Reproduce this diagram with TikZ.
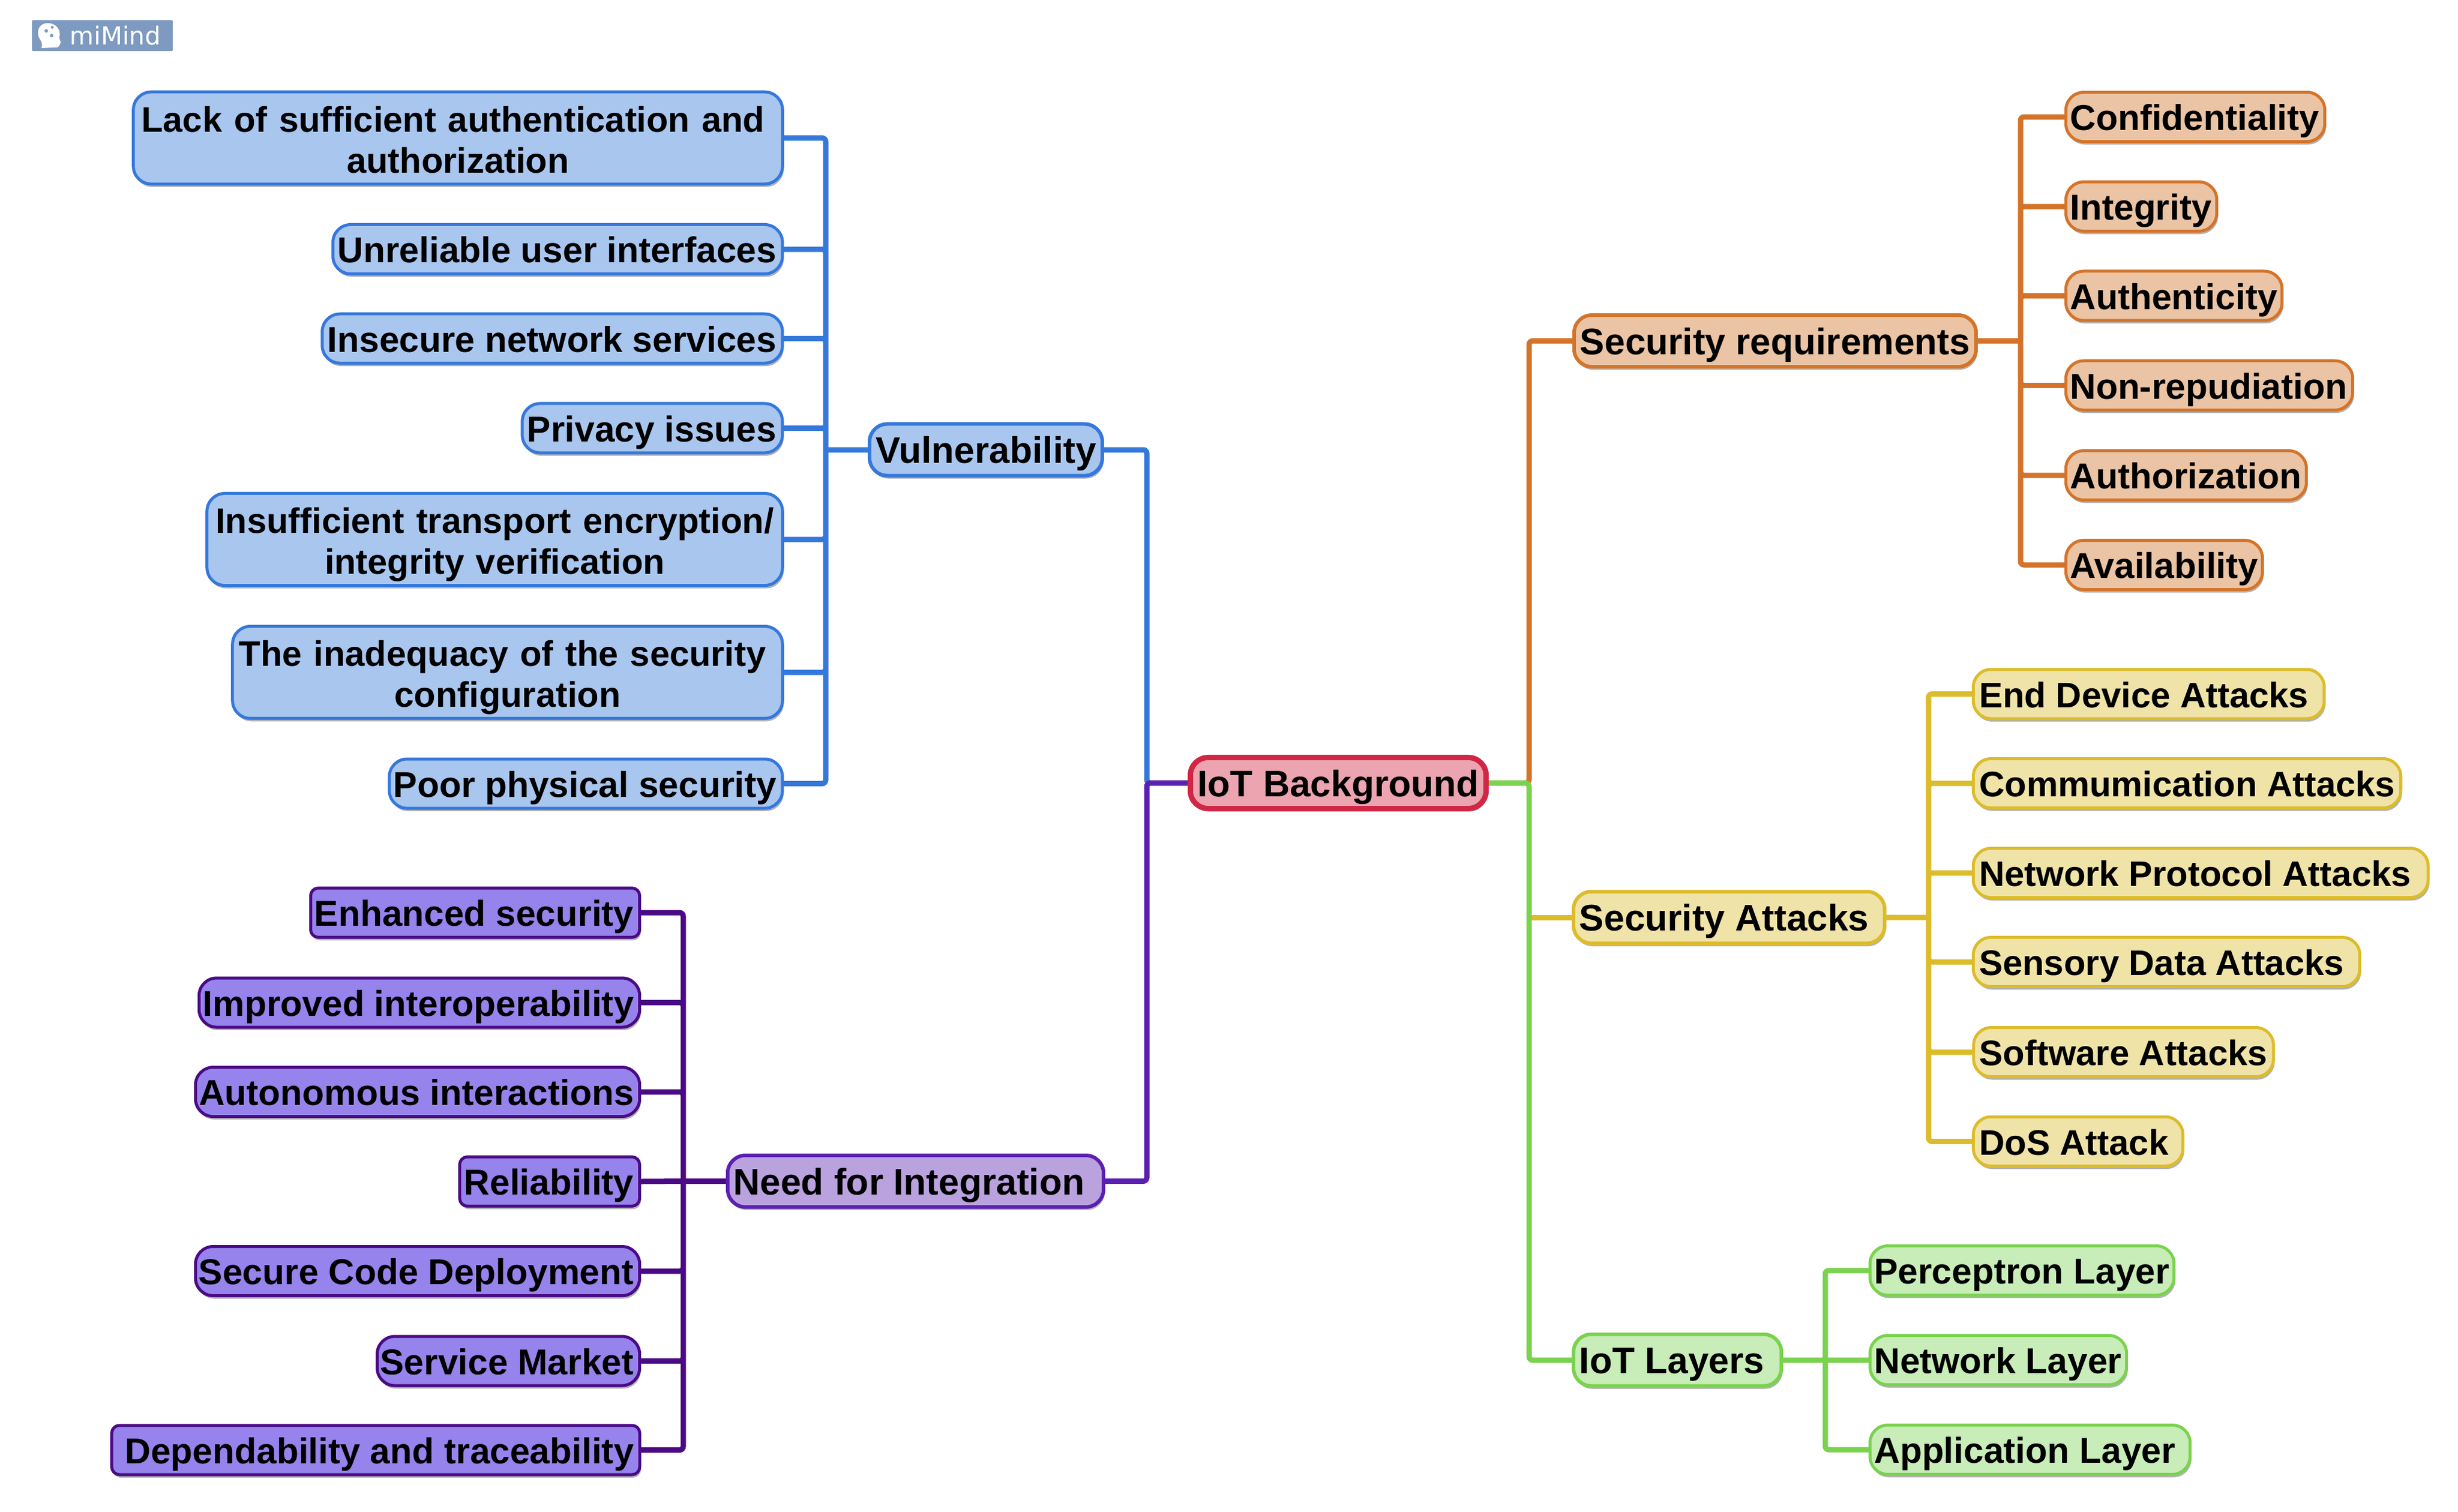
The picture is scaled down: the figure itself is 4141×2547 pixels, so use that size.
\documentclass[tikz,border=0pt]{standalone}
\usepackage{fontspec}
\setmainfont{Liberation Sans}
\newfontfamily\logofont{DejaVu Sans}
\usetikzlibrary{shadows,backgrounds}
\definecolor{logoblue}{HTML}{7F9AC0}
\definecolor{bluedark}{HTML}{3578DC}
\definecolor{bluefill}{HTML}{A9C6EF}
\definecolor{reddark}{HTML}{D12645}
\definecolor{redfill}{HTML}{EBA4B0}
\definecolor{violetdark}{HTML}{5B20B0}
\definecolor{violetfill}{HTML}{BAA2DF}
\definecolor{plumdark}{HTML}{4B0A85}
\definecolor{plumfill}{HTML}{9683EC}
\definecolor{orangedark}{HTML}{D4742A}
\definecolor{orangefill}{HTML}{EAC4A4}
\definecolor{yellowdark}{HTML}{DCBC2A}
\definecolor{yellowfill}{HTML}{EFE3A8}
\definecolor{greendark}{HTML}{7AD24E}
\definecolor{greenfill}{HTML}{C8EDB8}
\newcommand{\rtext}[2]{\makebox[#1cm][r]{#2}}
\newcommand{\ltext}[2]{\makebox[#1cm][l]{#2}}
\newcommand{\lltext}[2]{\makebox[#1cm][l]{\hspace*{-.03cm}#2}}
\newcommand{\ctext}[2]{\makebox[#1cm][c]{#2}}
\newcommand{\twolines}[2]{\rule{0pt}{18pt}#1\\\rule[-4.3pt]{0pt}{4.3pt}#2}
\tikzset{
  box/.style={rectangle,rounded corners=.3cm,inner xsep=.1cm,inner ysep=0pt,outer sep=0pt,
    font=\fontsize{17.2}{19.6}\selectfont\bfseries,text=black,text height=16.5pt,text depth=3.7pt,
    minimum height=.83cm,line width=.05cm,
    drop shadow={shadow xshift=.02cm,shadow yshift=-.05cm,fill=black,opacity=.3}},
  twoline/.style={text height=,text depth=,minimum height=1.55cm,align=center,inner xsep=.02cm,
    font=\fontsize{16.95}{19.6}\selectfont\bfseries},
  topic/.style={box,line width=.06cm,minimum height=.87cm,font=\fontsize{17.7}{19.6}\selectfont\bfseries},
  blueleaf/.style={box,draw=bluedark,fill=bluefill},
  plumleaf/.style={box,draw=plumdark,fill=plumfill},
  orangeleaf/.style={box,draw=orangedark,fill=orangefill},
  yellowleaf/.style={box,draw=yellowdark,fill=yellowfill,font=\fontsize{17}{19.6}\selectfont\bfseries},
  greenleaf/.style={box,draw=greendark,fill=greenfill},
  sharper/.style={rounded corners=.13cm},
  bluelink/.style={draw=bluedark,line width=.09cm,rounded corners=.06cm},
  violetlink/.style={draw=violetdark,line width=.09cm,rounded corners=.06cm},
  plumlink/.style={draw=plumdark,line width=.09cm,rounded corners=.06cm},
  orangelink/.style={draw=orangedark,line width=.09cm,rounded corners=.06cm},
  yellowlink/.style={draw=yellowdark,line width=.09cm,rounded corners=.06cm},
  greenlink/.style={draw=greendark,line width=.09cm,rounded corners=.06cm}
}
\begin{document}
\begin{tikzpicture}[x=.01cm,y=-.01cm]
  \useasboundingbox (0,0) rectangle (4141,2547);

  \node[rectangle,rounded corners=.02cm,fill=logoblue,text=white,
    minimum height=.52cm,inner xsep=.2cm,inner ysep=0pt,text width=1.97cm,align=right,
    font=\logofont\fontsize{11.9}{13}\selectfont] (logo) at (172.5,60) {miMind};
  \fill[white] (70,81) .. controls (72,74) and (70,70) .. (66,64)
    .. controls (60,50) and (68,38) .. (82,39)
    .. controls (96,40) and (103,52) .. (100,62)
    .. controls (99,66) and (103,70) .. (102,72)
    .. controls (100,76) and (100,81) .. (92,80) -- cycle;
  \fill[logoblue] (78,52) circle (3) (88,46) circle (2.5) (87,60) circle (3);

  \node[topic,draw=reddark,fill=redfill,line width=.09cm,minimum height=.86cm] (central) at (2254.5,1319.5) {\ctext{4.78}{IoT Background}};

  \node[topic,draw=bluedark,fill=bluefill] (vuln) at (1661,758) {\ctext{3.72}{Vulnerability}};
  \node[blueleaf,twoline,text width=10.89cm] (v1) at (771.5,232.5) {\twolines{Lack of sufficient authentication and\hphantom{i}}{authorization}};
  \node[blueleaf] (v2) at (939.5,420) {\rtext{7.37}{Unreliable user interfaces}};
  \node[blueleaf] (v3) at (930.5,570.5) {\rtext{7.55}{Insecure network services}};
  \node[blueleaf] (v4) at (1099,721.5) {\rtext{4.18}{Privacy issues}};
  \node[blueleaf,twoline,text width=9.65cm] (v5) at (833.5,909) {\twolines{Insufficient transport encryption/}{integrity verification}};
  \node[blueleaf,twoline,text width=9.22cm] (v6) at (855,1133) {\twolines{The inadequacy of the security\hphantom{i}}{configuration}};
  \node[blueleaf] (v7) at (987,1320.5) {\rtext{6.42}{Poor physical security}};

  \node[topic,draw=violetdark,fill=violetfill] (need) at (1542.5,1990.5) {\ltext{6.13}{Need for Integration}};
  \node[plumleaf,sharper] (n1) at (800.5,1538) {\rtext{5.34}{Enhanced security}};
  \node[plumleaf] (n2) at (706.5,1689.5) {\rtext{7.22}{Improved interoperability}};
  \node[plumleaf] (n3) at (703.5,1840) {\rtext{7.28}{Autonomous interactions}};
  \node[plumleaf,sharper] (n4) at (926,1991) {\rtext{2.83}{Reliability}};
  \node[plumleaf] (n5) at (703.5,2142) {\rtext{7.28}{Secure Code Deployment}};
  \node[plumleaf] (n6) at (856.5,2293.5) {\rtext{4.22}{Service Market}};
  \node[plumleaf,sharper] (n7) at (633,2443.5) {\rtext{8.69}{Dependability and traceability}};

  \node[topic,draw=orangedark,fill=orangefill] (req) at (2990.5,574.5) {\ctext{6.57}{Security requirements}};
  \node[orangeleaf] (o1) at (3698.5,197) {\lltext{4.16}{Confidentiality}};
  \node[orangeleaf] (o2) at (3607.5,348) {\lltext{2.34}{Integrity}};
  \node[orangeleaf] (o3) at (3662.5,498.5) {\lltext{3.44}{Authenticity}};
  \node[orangeleaf] (o4) at (3722,649.5) {\lltext{4.63}{Non-repudiation}};
  \node[orangeleaf] (o5) at (3683,801) {\lltext{3.85}{Authorization}};
  \node[orangeleaf] (o6) at (3646,952) {\lltext{3.11}{Availability}};

  \node[topic,draw=yellowdark,fill=yellowfill] (att) at (2913,1546) {\ltext{5.04}{Security Attacks}};
  \node[yellowleaf] (y1) at (3620,1169.5) {\ltext{5.71}{End Device Attacks}};
  \node[yellowleaf] (y2) at (3684.5,1320) {\ltext{7.00}{Commumication Attacks}};
  \node[yellowleaf] (y3) at (3707.5,1471) {\ltext{7.46}{Network Protocol Attacks}};
  \node[yellowleaf] (y4) at (3650,1621) {\ltext{6.31}{Sensory Data Attacks}};
  \node[yellowleaf] (y5) at (3577.5,1773) {\ltext{4.85}{Software Attacks}};
  \node[yellowleaf] (y6) at (3501,1923.5) {\ltext{3.33}{DoS Attack}};

  \node[topic,draw=greendark,fill=greenfill] (lay) at (2826,2292) {\ltext{3.30}{IoT Layers}};
  \node[greenleaf] (g1) at (3406.5,2141) {\lltext{4.92}{Perceptron Layer}};
  \node[greenleaf] (g2) at (3366.5,2292) {\lltext{4.12}{Network Layer}};
  \node[greenleaf] (g3) at (3420,2443) {\lltext{5.19}{Application Layer}};

  \coordinate (leftbus) at (1932,1319.5);
  \coordinate (rightbus) at (2576,1319.5);
  \coordinate (vulnbus) at (1391,758);
  \coordinate (needbus) at (1151,1990.5);
  \coordinate (reqbus) at (3404,574.5);
  \coordinate (attbus) at (3249,1546);
  \coordinate (laybus) at (3075,2292);

  \begin{scope}[on background layer]
    \path[bluelink] (central.west) -- (leftbus) |- (vuln.east);
    \path[violetlink] (central.west) -- (leftbus) |- (need.east);
    \path[orangelink] (central.east) -- (rightbus) |- (req.west);
    \path[yellowlink] (att.west) -- (att.west -| rightbus);
    \path[greenlink] (central.east) -- (rightbus) |- (lay.west);
    \path[bluelink] (v1.east) -| (vulnbus) (v2.east) -| (vulnbus) (v3.east) -| (vulnbus) (v4.east) -| (vulnbus)
      (v5.east) -| (vulnbus) (v6.east) -| (vulnbus) (v7.east) -| (vulnbus) (vuln.west) -- (vulnbus);
    \path[plumlink] (n1.east) -| (needbus) (n2.east) -| (needbus) (n3.east) -| (needbus) (n4.east) -- (needbus)
      (n5.east) -| (needbus) (n6.east) -| (needbus) (n7.east) -| (needbus) (need.west) -- (needbus);
    \path[orangelink] (o1.west) -| (reqbus) (o2.west) -| (reqbus) (o3.west) -| (reqbus) (o4.west) -| (reqbus)
      (o5.west) -| (reqbus) (o6.west) -| (reqbus) (req.east) -- (reqbus);
    \path[yellowlink] (y1.west) -| (attbus) (y2.west) -| (attbus) (y3.west) -| (attbus) (y4.west) -| (attbus)
      (y5.west) -| (attbus) (y6.west) -| (attbus) (att.east) -- (attbus);
    \path[greenlink] (g1.west) -| (laybus) (g2.west) -- (laybus) (g3.west) -| (laybus) (lay.east) -- (laybus);
  \end{scope}
\end{tikzpicture}
\end{document}
